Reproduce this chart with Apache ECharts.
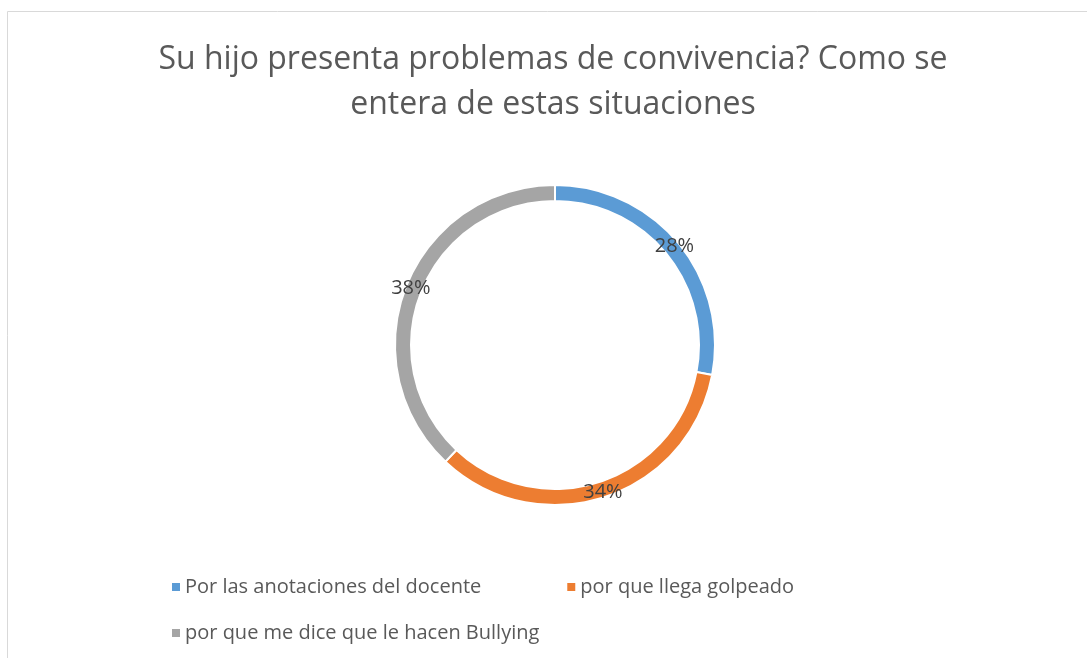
<!DOCTYPE html>
<html>
<head>
<meta charset="utf-8">
<script src="https://cdn.jsdelivr.net/npm/echarts@6/dist/echarts.min.js"></script>
<style>
  html, body { margin: 0; padding: 0; background: #fff; }
  #chart { width: 1087px; height: 658px; }
</style>
</head>
<body>
<div id="chart"></div>
<script>
const titleLines = ['Su hijo presenta problemas de convivencia? Como se', 'entera de estas situaciones'];
const categories = ['Por las anotaciones del docente', 'por que llega golpeado', 'por que me dice que le hacen Bullying'];
const values = [28, 34, 38];
const colors = ['#5B9BD5', '#ED7D31', '#A5A5A5'];

const font = '"Open Sans", "Noto Sans", sans-serif';
const chart = echarts.init(document.getElementById('chart'));

const option = {
  animation: false,
  color: colors,
  graphic: [
    {
      type: 'rect',
      shape: { x: 7.5, y: 11.5, width: 1100, height: 700 },
      style: { fill: 'none', stroke: '#d9d9d9', lineWidth: 1 },
      silent: true
    },
    {
      type: 'text',
      x: 553,
      y: 37,
      style: {
        text: titleLines.join('\n'),
        font: '32px ' + font,
        fill: '#595959',
        align: 'center',
        lineHeight: 45
      }
    }
  ],
  legend: [
    {
      data: categories.slice(0, 2),
      left: 167,
      top: 572,
      icon: 'rect',
      itemWidth: 8,
      itemHeight: 8,
      itemGap: 86,
      itemStyle: { borderWidth: 0 },
      textStyle: { fontFamily: font, fontSize: 20, color: '#595959' }
    },
    {
      data: categories.slice(2),
      left: 167,
      top: 618,
      icon: 'rect',
      itemWidth: 8,
      itemHeight: 8,
      itemStyle: { borderWidth: 0 },
      textStyle: { fontFamily: font, fontSize: 20, color: '#595959' }
    }
  ],
  series: [
    {
      type: 'pie',
      center: [555, 345],
      radius: [144, 160],
      startAngle: 90,
      clockwise: true,
      avoidLabelOverlap: false,
      itemStyle: { borderColor: '#fff', borderWidth: 2 },
      label: {
        show: true,
        position: 'inside',
        formatter: '{d}%',
        fontFamily: font,
        fontSize: 20,
        color: '#404040',
        textBorderWidth: 0
      },
      labelLine: { show: false },
      emphasis: { disabled: true },
      data: categories.map((name, i) => ({ name: name, value: values[i] }))
    }
  ]
};

chart.setOption(option);
</script>
</body>
</html>
